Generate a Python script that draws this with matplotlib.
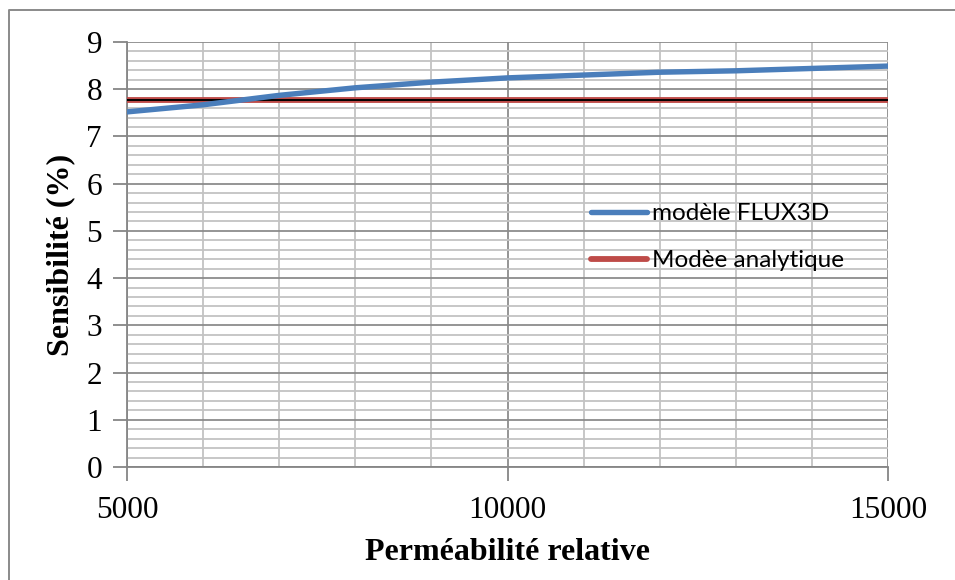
import numpy as np
import matplotlib.pyplot as plt
from matplotlib.lines import Line2D
from matplotlib.ticker import MultipleLocator

# permeabilite relative vs sensibilite
permeabilite = [5000, 6000, 7000, 8000, 9000, 10000, 11000, 12000, 13000, 14000, 15000]
flux3d = [7.52, 7.67, 7.87, 8.03, 8.15, 8.24, 8.30, 8.36, 8.39, 8.44, 8.49]
analytique = [7.78] * len(permeabilite)

fig = plt.figure(figsize=(9.55, 5.8), dpi=100, facecolor='w')
ax = fig.add_axes([127/955., 1-467/580., (888-127)/955., (467-42)/580.])

plt.rcParams['font.family'] = ['Liberation Serif', 'DejaVu Serif']

ax.plot(permeabilite, flux3d, lw=3.9, color='#4A7EBB', solid_capstyle='round',
        label='modèle FLUX3D', zorder=5)
ax.plot(permeabilite, analytique, lw=4.2, color='#BE4B48', solid_capstyle='round',
        label='Modèe analytique', zorder=4)
ax.plot(permeabilite, analytique, lw=1.4, color='black', zorder=4.5)

ax.set_xlim(5000, 15000)
ax.set_ylim(0, 9)
ax.xaxis.set_major_locator(MultipleLocator(5000))
ax.xaxis.set_minor_locator(MultipleLocator(1000))
ax.yaxis.set_major_locator(MultipleLocator(1))
ax.yaxis.set_minor_locator(MultipleLocator(0.2))

ax.grid(True, which='major', color='#8c8c8c', lw=1.3)
ax.grid(True, which='minor', color='#c3c3c3', lw=1.3)
ax.set_axisbelow(True)

for s in ['top', 'right']:
    ax.spines[s].set_visible(False)
for s in ['left', 'bottom']:
    ax.spines[s].set_color('#868686')
    ax.spines[s].set_linewidth(1.3)

ax.tick_params(which='major', direction='out', length=10, width=1.3, color='#868686',
               labelsize=22.5, pad=8)
ax.tick_params(which='minor', length=0)
ax.tick_params(axis='x', pad=11)
for lab in ax.get_xticklabels() + ax.get_yticklabels():
    lab.set_family('Liberation Serif')

ax.set_xlabel('Perméabilité relative', fontsize=23, fontweight='bold',
              family='Liberation Serif', labelpad=9)
ax.set_ylabel('Sensibilité (%)', fontsize=23, fontweight='bold',
              family='Liberation Serif', labelpad=8)

leg = fig.legend(loc='upper left', bbox_to_anchor=(591/955., 1-203/580.),
                 frameon=False, borderpad=0, borderaxespad=0,
                 handlelength=2.3, handletextpad=0.2, labelspacing=1.08,
                 prop={'family': 'Lato', 'size': 17.5})

# outer frame of the chart area
fig.add_artist(Line2D([9/955., 9/955., 1.0], [0.0, 1-10/580., 1-10/580.],
                      transform=fig.transFigure, color='#8a8a8a', lw=1.4))

plt.savefig('out.png', dpi=100)
